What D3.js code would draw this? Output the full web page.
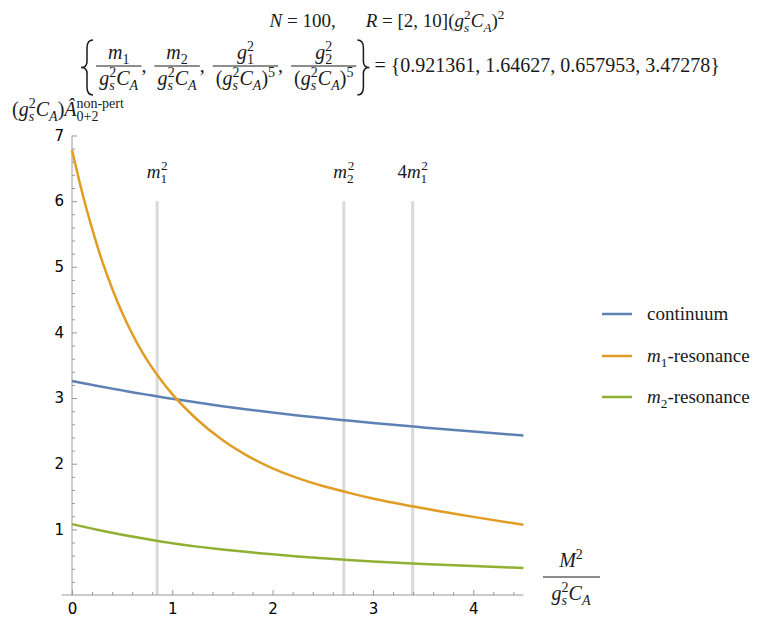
<!DOCTYPE html>
<html>
<head>
<meta charset="utf-8">
<script src="https://cdn.jsdelivr.net/npm/d3@7"></script>
<style>
  body { margin: 0; background: #fff; }
  svg { display: block; }
</style>
</head>
<body>
<div id="vis"></div>
<script>
// sample points along M^2/(g_s^2 C_A)
var xVals = [0, 0.1, 0.2, 0.3, 0.4, 0.5, 0.6, 0.7, 0.8, 0.9, 1, 1.25, 1.5, 1.75, 2, 2.25, 2.5, 2.75, 3, 3.5, 4, 4.5];
var continuum = [3.26, 3.23, 3.201, 3.172, 3.144, 3.117, 3.09, 3.064, 3.038, 3.013, 2.99, 2.932, 2.877, 2.827, 2.78, 2.736, 2.695, 2.657, 2.62, 2.553, 2.49, 2.43];
var m1Res = [6.78, 6.14, 5.58, 5.09, 4.67, 4.30, 3.98, 3.70, 3.46, 3.25, 3.06, 2.67, 2.36, 2.12, 1.93, 1.78, 1.66, 1.56, 1.47, 1.32, 1.19, 1.07];
var m2Res = [1.08, 1.045, 1.011, 0.979, 0.948, 0.918, 0.89, 0.863, 0.837, 0.812, 0.789, 0.737, 0.692, 0.654, 0.619, 0.588, 0.56, 0.535, 0.512, 0.473, 0.44, 0.411];

var xTicks = [0, 1, 2, 3, 4];
var yTicks = [1, 2, 3, 4, 5, 6, 7];

// vertical markers: m1^2, m2^2, 4 m1^2
var markerPos = [0.849, 2.710, 3.396];
var markerTop = 6;

var colors = ["#5e81b5", "#e19c24", "#8fb032"];

var SERIF = "'Liberation Serif', 'DejaVu Serif', serif";
var SANS = "'DejaVu Sans', 'Liberation Sans', sans-serif";

var W = 758, H = 618;
var svg = d3.select("#vis").append("svg")
    .attr("width", W).attr("height", H);

var x = d3.scaleLinear().domain([0, 4.5]).range([72, 523.4]);
var y = d3.scaleLinear().domain([0, 7]).range([595, 135.5]);

// math-ish text: parts = [{t, i, sup, sub, dx}]
function mathText(parent, px, py, parts, fs, anchor) {
    var t = parent.append("text")
        .attr("x", px).attr("y", py)
        .attr("font-family", SERIF)
        .attr("font-size", fs)
        .attr("fill", "#1a1a1a")
        .attr("text-anchor", anchor || "start");
    var cur = 0;
    parts.forEach(function (p) {
        var sh = p.sup ? -0.4 * fs : (p.sub ? 0.25 * fs : 0);
        var ts = t.append("tspan").text(p.t).attr("dy", sh - cur);
        if (p.dx) ts.attr("dx", p.dx);
        if (p.i) ts.attr("font-style", "italic");
        if (p.sup || p.sub) ts.attr("font-size", fs * 0.7);
        cur = sh;
    });
    return t;
}

function brace(parent, cx, top, bot, left) {
    var s = left ? 1 : -1, mid = (top + bot) / 2, w = 6;
    var p = "M" + (cx + s * w) + "," + top +
        " Q" + cx + "," + top + " " + cx + "," + (top + 8) +
        " L" + cx + "," + (mid - 6) +
        " Q" + cx + "," + mid + " " + (cx - s * w) + "," + mid +
        " Q" + cx + "," + mid + " " + cx + "," + (mid + 6) +
        " L" + cx + "," + (bot - 8) +
        " Q" + cx + "," + bot + " " + (cx + s * w) + "," + bot;
    parent.append("path").attr("d", p).attr("fill", "none")
        .attr("stroke", "#1a1a1a").attr("stroke-width", 1.5);
}

var fs = 19;
function gsCA(f) {
    return [{t: "g", i: 1}, {t: "s", i: 1, sub: 1}, {t: "2", sup: 1, dx: -f * 0.27}, {t: "C", i: 1}, {t: "A", i: 1, sub: 1}];
}

// ---- title line 1
mathText(svg, 387, 27, [
    {t: "N", i: 1}, {t: " = 100,"},
    {t: "R", i: 1, dx: 30}, {t: " = [2, 10]("}
].concat(gsCA(fs)).concat([{t: ")"}, {t: "2", sup: 1}]), fs, "middle");

// ---- title line 2 (laid out left to right)
var fs2 = 20;
var line2 = svg.append("g");
var cx = 78;
brace(line2, cx + 9, 40, 95, true);
cx += 18;
var fracs = [
    [[{t: "m", i: 1}, {t: "1", sub: 1}], gsCA(fs2)],
    [[{t: "m", i: 1}, {t: "2", sub: 1}], gsCA(fs2)],
    [[{t: "g", i: 1}, {t: "1", sub: 1}, {t: "2", sup: 1, dx: -7}], [{t: "("}].concat(gsCA(fs2)).concat([{t: ")"}, {t: "5", sup: 1}])],
    [[{t: "g", i: 1}, {t: "2", sub: 1}, {t: "2", sup: 1, dx: -7}], [{t: "("}].concat(gsCA(fs2)).concat([{t: ")"}, {t: "5", sup: 1}])]
];
fracs.forEach(function (f, k) {
    var num = mathText(line2, 0, 59, f[0], fs2, "middle");
    var den = mathText(line2, 0, 85, f[1], fs2, "middle");
    var w = Math.max(num.node().getBBox().width, den.node().getBBox().width) + 6;
    num.attr("x", cx + w / 2);
    den.attr("x", cx + w / 2);
    line2.append("line").attr("x1", cx).attr("x2", cx + w)
        .attr("y1", 66).attr("y2", 66).attr("stroke", "#1a1a1a").attr("stroke-width", 1);
    cx += w;
    if (k < fracs.length - 1) {
        mathText(line2, cx, 72, [{t: ","}], fs2);
        cx += 13;
    }
});
cx += 3;
brace(line2, cx + 4, 40, 95, false);
cx += 15;
mathText(line2, cx, 72, [{t: " = {0.921361, 1.64627, 0.657953, 3.47278}"}], fs2);

// ---- y axis label
mathText(svg, 12, 116, [{t: "("}].concat(gsCA(fs2)).concat([
    {t: ")"}, {t: "Â", i: 1}, {t: "0+2", sub: 1}, {t: "non-pert", sup: 1, dx: -22}
]), fs2);

// ---- markers
svg.append("g").selectAll("line").data(markerPos).enter().append("line")
    .attr("x1", function (d) { return x(d); })
    .attr("x2", function (d) { return x(d); })
    .attr("y1", y(markerTop)).attr("y2", y(0))
    .attr("stroke", "#d9d9d9").attr("stroke-width", 3);

var markerLabels = [
    [{t: "m", i: 1}, {t: "1", sub: 1}, {t: "2", sup: 1, dx: -6}],
    [{t: "m", i: 1}, {t: "2", sub: 1}, {t: "2", sup: 1, dx: -6}],
    [{t: "4"}, {t: "m", i: 1}, {t: "1", sub: 1}, {t: "2", sup: 1, dx: -6}]
];
markerPos.forEach(function (d, k) {
    mathText(svg, x(d), 178, markerLabels[k], fs, "middle");
});

// ---- axes
var axisCol = "#999";
var xMinor = d3.range(0, 4.51, 0.2).filter(function (v) { return Math.abs(v - Math.round(v)) > 0.01; });
var yMinor = d3.range(0, 7.01, 0.2).filter(function (v) { return Math.abs(v - Math.round(v)) > 0.01; });

var gx = svg.append("g").attr("transform", "translate(0," + y(0) + ")");
gx.append("line").attr("x1", x(-0.1)).attr("x2", x(4.5)).attr("stroke", axisCol);
gx.append("g").call(d3.axisBottom(x).tickValues(xMinor).tickSize(-3).tickFormat(""));
gx.append("g").call(d3.axisBottom(x).tickValues(xTicks).tickSize(-5).tickPadding(8).tickFormat(d3.format("d")));

var gy = svg.append("g").attr("transform", "translate(" + x(0) + ",0)");
gy.append("line").attr("y1", y(0)).attr("y2", y(7)).attr("stroke", axisCol);
gy.append("g").call(d3.axisLeft(y).tickValues(yMinor).tickSize(-3).tickFormat(""));
gy.append("g").call(d3.axisLeft(y).tickValues(yTicks).tickSize(-5).tickPadding(8).tickFormat(d3.format("d")));

svg.selectAll(".domain").remove();
svg.selectAll(".tick line").attr("stroke", axisCol);
svg.selectAll(".tick text").attr("font-family", SANS).attr("font-size", 15)
    .attr("fill", "#000");

// ---- curves
var series = [continuum, m1Res, m2Res];
var line = d3.line()
    .x(function (d, i) { return x(xVals[i]); })
    .y(function (d) { return y(d); })
    .curve(d3.curveMonotoneX);

svg.append("g").selectAll("path").data(series).enter().append("path")
    .attr("d", line)
    .attr("fill", "none")
    .attr("stroke", function (d, i) { return colors[i]; })
    .attr("stroke-width", 2.5);

// ---- x axis label
mathText(svg, 571, 567, [{t: "M", i: 1}, {t: "2", sup: 1}], fs2, "middle");
svg.append("line").attr("x1", 543).attr("x2", 600).attr("y1", 577).attr("y2", 577)
    .attr("stroke", "#1a1a1a").attr("stroke-width", 1);
mathText(svg, 571, 600, gsCA(fs2), fs2, "middle");

// ---- legend
var legendNames = [
    [{t: "continuum"}],
    [{t: "m", i: 1}, {t: "1", sub: 1}, {t: "-resonance"}],
    [{t: "m", i: 1}, {t: "2", sub: 1}, {t: "-resonance"}]
];
var legY = [314, 356, 397];
legendNames.forEach(function (nm, k) {
    svg.append("line").attr("x1", 602).attr("x2", 632)
        .attr("y1", legY[k]).attr("y2", legY[k])
        .attr("stroke", colors[k]).attr("stroke-width", 2.5);
    mathText(svg, 647, legY[k] + 6, nm, fs);
});
</script>
</body>
</html>
